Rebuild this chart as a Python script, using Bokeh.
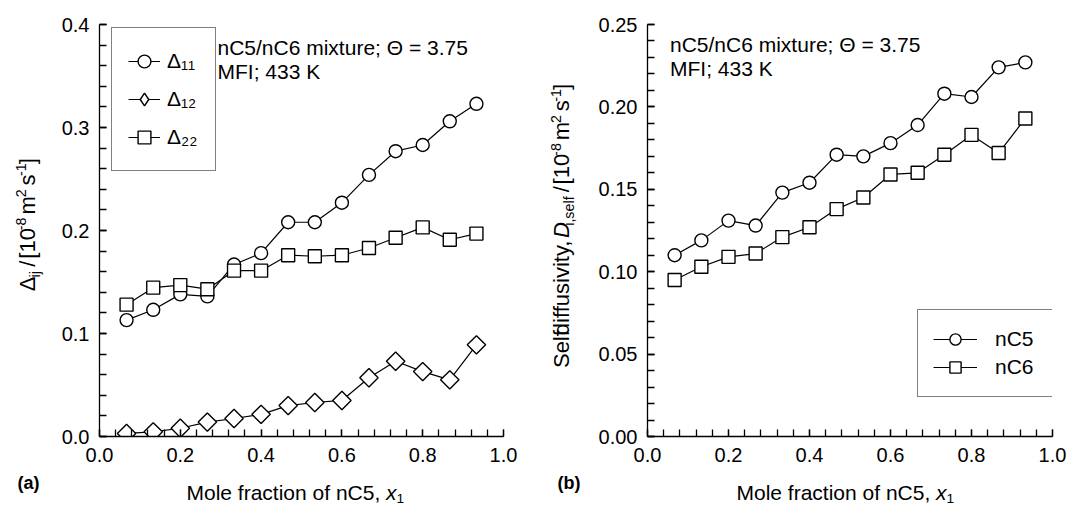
import math
import re
from bokeh.plotting import figure
from bokeh.layouts import row, column
from bokeh.models import (Label, Legend, LegendItem, SingleIntervalTicker,
                          NumeralTickFormatter, Range1d, ColumnDataSource)
from bokeh.core.properties import value
from bokeh.embed import file_html
from bokeh.resources import INLINE

# ---------------- data ----------------
x_frac = [0.067, 0.133, 0.2, 0.267, 0.333, 0.4, 0.467, 0.533, 0.6, 0.667, 0.733, 0.8, 0.867, 0.933]

delta11 = [0.113, 0.123, 0.138, 0.136, 0.167, 0.178, 0.208, 0.208, 0.227, 0.254, 0.277, 0.283, 0.306, 0.323]
delta12 = [0.003, 0.0045, 0.008, 0.014, 0.0175, 0.0215, 0.030, 0.033, 0.035, 0.057, 0.073, 0.063, 0.055, 0.089]
delta22 = [0.128, 0.1445, 0.147, 0.143, 0.161, 0.161, 0.176, 0.175, 0.176, 0.183, 0.193, 0.203, 0.191, 0.197]

d_nc5 = [0.110, 0.119, 0.131, 0.128, 0.148, 0.154, 0.171, 0.170, 0.178, 0.189, 0.208, 0.206, 0.224, 0.227]
d_nc6 = [0.095, 0.103, 0.109, 0.111, 0.121, 0.127, 0.138, 0.145, 0.159, 0.160, 0.171, 0.183, 0.172, 0.193]

legend_a = ["Δ₁₁", "Δ₁₂", "Δ₂₂"]
legend_b = ["nC5", "nC6"]
note_line1 = "nC5/nC6 mixture; Θ = 3.75"
note_line2 = "MFI; 433 K"

FONT = "Liberation Sans"
TOP_H = 474      # height of the row holding the plots
BOT_H = 33       # strip under the plots (panel letter, x title)
MID = 0.3466     # distance baseline -> middle of text box, in em
K_ROT = 0.05     # small along-text correction for rotated pieces

# ---------------- text metrics (Arial / Liberation Sans) ----------------
W = {' ': 278, '(': 333, ')': 333, '[': 278, ']': 278, '/': 278, ',': 278, '.': 278,
     ';': 278, '-': 333, '=': 584,
     'a': 556, 'b': 556, 'c': 500, 'd': 556, 'e': 556, 'f': 278, 'i': 222, 'j': 222,
     'l': 222, 'm': 833, 'n': 556, 'o': 556, 'r': 333, 's': 500, 't': 278, 'u': 556,
     'v': 500, 'x': 500, 'y': 500,
     'C': 722, 'D': 722, 'F': 611, 'I': 278, 'K': 667, 'M': 833, 'S': 667,
     'Δ': 668, 'Θ': 778}
for d in "0123456789":
    W[d] = 556


def tw(s, size):
    return sum(W.get(ch, 556) for ch in s) * size / 1000.0


def layout_segs(segs, px, py, size, angle=0.0, center=False, sub=0.22):
    """Return centre positions (page px) of each text piece of a rich text run."""
    sizes = [size * 0.65 if k in ("sub", "sup") else size for _, k in segs]
    total = sum(tw(t, s) for (t, _), s in zip(segs, sizes))
    adv = -total / 2 if center else 0.0
    out = []
    for (t, kind), fs in zip(segs, sizes):
        lead = len(t) - len(t.lstrip(" "))
        shown = t.strip(" ")
        off = 0.0
        if kind == "sub":
            off = size * sub
        elif kind == "sup":
            off = -size * 0.40
        mid_along = adv + tw(" " * lead, fs) + tw(shown, fs) / 2
        if angle == 0:
            x, y = px + mid_along, py + off - MID * fs
        else:
            mid_along -= K_ROT * tw(shown, fs)
            x, y = px + off - MID * fs, py - mid_along
        style = {"i": "italic", "b": "bold"}.get(kind, "normal")
        if shown:
            out.append((x, y, shown, fs, style))
        adv += tw(t, fs)
    return out


def rich(fig, fmap, segs, px, py, size, sub=0.22):
    for x, y, shown, fs, style in layout_segs(segs, px, py, size, sub=sub):
        xd, yd = fmap(x, y)
        fig.add_layout(Label(x=xd, y=yd, text=shown,
                             text_font=FONT, text_font_size=f"{fs:.1f}px",
                             text_font_style=style, text_color="black",
                             text_align="center", text_baseline="middle"))


def rich_vertical(fig, fmap, segs, px, py, size):
    pieces = []
    for t, kind in segs:
        for tok in re.findall(r"\s*\S+|\s+", t):
            pieces.append((tok, kind))
    rows = layout_segs(pieces, px, py, size, angle=math.pi / 2, center=True)
    xs, ys = zip(*[fmap(r[0], r[1]) for r in rows])
    src = ColumnDataSource(dict(x=list(xs), y=list(ys), t=[r[2] for r in rows],
                                fs=[f"{r[3]:.1f}px" for r in rows],
                                st=[r[4] for r in rows]))
    fig.text(x="x", y="y", text="t", source=src, angle=math.pi / 2,
             text_font=value(FONT), text_font_size="fs", text_font_style="st",
             text_color="black", text_align="center", text_baseline="middle")


def style_axes(p, xint, yint, yfmt):
    for ax in p.axis:
        ax.axis_line_color = "black"
        ax.axis_line_width = 1.3
        ax.major_tick_in = 7
        ax.major_tick_out = 0
        ax.minor_tick_in = 7
        ax.minor_tick_out = 0
        ax.major_tick_line_color = "black"
        ax.minor_tick_line_color = "black"
        ax.major_tick_line_width = 1.3
        ax.minor_tick_line_width = 1.3
        ax.major_label_text_font = FONT
        ax.major_label_text_font_size = "20px"
        ax.major_label_text_color = "black"
    p.xaxis.ticker = SingleIntervalTicker(interval=xint, num_minor_ticks=5)
    p.yaxis.ticker = SingleIntervalTicker(interval=yint, num_minor_ticks=5)
    p.xaxis.formatter = NumeralTickFormatter(format="0.0")
    p.yaxis.formatter = NumeralTickFormatter(format=yfmt)
    p.xaxis.major_label_standoff = 11
    p.yaxis.major_label_standoff = 10


def make_fig(width, bl, br, ymax):
    p = figure(width=width, height=TOP_H, x_range=Range1d(0, 1), y_range=Range1d(0, ymax),
               output_backend="svg", toolbar_location=None, title=None,
               min_border_left=bl, min_border_right=br,
               min_border_top=24, min_border_bottom=TOP_H - 436)
    p.outline_line_color = None
    p.grid.visible = False
    p.background_fill_color = "white"
    p.border_fill_color = "white"
    return p


def make_strip(width, height):
    s = figure(width=width, height=height, x_range=Range1d(0, width),
               y_range=Range1d(0, height), output_backend="svg", toolbar_location=None,
               title=None, x_axis_type=None, y_axis_type=None, min_border=0)
    s.outline_line_color = None
    s.grid.visible = False
    s.background_fill_color = "white"
    s.border_fill_color = "white"
    return s


def strip_map(x0, y0, h):
    return lambda x, y: (x - x0, h - (y - y0))


def series(p, xs, ys, marker, angle=0.0):
    ln = p.line(xs, ys, line_color="black", line_width=1.2)
    sc = p.scatter(xs, ys, marker=marker, size=13, angle=angle, fill_color="white",
                   line_color="black", line_width=1.4)
    return ln, sc


FT, FB = 24.0, 436.0

# ---------------- panel (a) ----------------
pa = make_fig(492, 51, 37, 0.4)
style_axes(pa, 0.2, 0.1, "0.0")
FL_A, FW_A = 99.0, 404.0


def fmap_a(x, y):
    return (x - FL_A) / FW_A, (FB - y) / (FB - FT) * 0.4


a11 = series(pa, x_frac, delta11, "circle")
a12 = series(pa, x_frac, delta12, "square", math.pi / 4)
a22 = series(pa, x_frac, delta22, "square")
# diamond key for the legend only (hidden in the plot area)
a12_key = pa.scatter(x_frac, delta12, marker="diamond", size=13, fill_color="white",
                     line_color="black", line_width=1.4, visible=False)

leg_a = Legend(items=[LegendItem(label=legend_a[0], renderers=list(a11)),
                      LegendItem(label=legend_a[1], renderers=[a12[0], a12_key]),
                      LegendItem(label=legend_a[2], renderers=list(a22))],
               location=(12, 265), glyph_width=32, glyph_height=34, spacing=4,
               padding=16, label_standoff=7, label_width=32, margin=0,
               border_line_color="black", border_line_width=1.2,
               background_fill_color="white", background_fill_alpha=1.0,
               label_text_font=FONT, label_text_font_size="21px",
               label_text_color="black")
pa.add_layout(leg_a)

rich(pa, fmap_a, [(note_line1, "n")], 217, 54.5, 21)
rich(pa, fmap_a, [(note_line2, "n")], 217, 78, 21)

ya = make_strip(48, TOP_H)
rich_vertical(ya, strip_map(0, 0, TOP_H),
              [("Δ", "n"), ("ij", "sub"), (" / [10", "n"), ("-8", "sup"), (" m", "n"),
               ("2", "sup"), (" s", "n"), ("-1", "sup"), ("]", "n")],
              34.5, 229.5, 22)

xa = make_strip(540, BOT_H)
rich(xa, strip_map(0, TOP_H, BOT_H), [("(a)", "b")], 17, 489, 18)
rich(xa, strip_map(0, TOP_H, BOT_H),
     [("Mole fraction of nC5, ", "n"), ("x", "i"), ("1", "sub")], 186, 499, 21, sub=0.18)

# ---------------- panel (b) ----------------
pb = make_fig(487, 67, 15, 0.25)
style_axes(pb, 0.2, 0.05, "0.00")
FL_B, FW_B = 647.0, 405.0


def fmap_b(x, y):
    return (x - FL_B) / FW_B, (FB - y) / (FB - FT) * 0.25


b5 = series(pb, x_frac, d_nc5, "circle")
b6 = series(pb, x_frac, d_nc6, "square")

leg_b = Legend(items=[LegendItem(label=legend_b[0], renderers=list(b5)),
                      LegendItem(label=legend_b[1], renderers=list(b6))],
               location=(270, 39), glyph_width=44, glyph_height=28, spacing=0,
               padding=15, label_standoff=18, label_width=44, margin=0,
               border_line_color="black", border_line_width=1.2,
               background_fill_color="white", background_fill_alpha=1.0,
               label_text_font=FONT, label_text_font_size="21px",
               label_text_color="black")
pb.add_layout(leg_b)

rich(pb, fmap_b, [(note_line1, "n")], 669.5, 51, 21)
rich(pb, fmap_b, [(note_line2, "n")], 669.5, 75.5, 21)

yb = make_strip(40, TOP_H)
rich_vertical(yb, strip_map(540, 0, TOP_H),
              [("Self diffusivity, ", "n"), ("D", "i"), ("i,self", "sub"), (" / [10", "n"),
               ("-8", "sup"), (" m", "n"), ("2", "sup"), (" s", "n"), ("-1", "sup"),
               ("]", "n")],
              569, 229.5, 22)

xb = make_strip(527, BOT_H)
rich(xb, strip_map(540, TOP_H, BOT_H), [("(b)", "b")], 557.5, 489, 18)
rich(xb, strip_map(540, TOP_H, BOT_H),
     [("Mole fraction of nC5, ", "n"), ("x", "i"), ("1", "sub")], 736, 499, 21, sub=0.18)

layout = row(column(row(ya, pa), xa), column(row(yb, pb), xb))
open("out.html", "w").write(file_html(layout, INLINE))
